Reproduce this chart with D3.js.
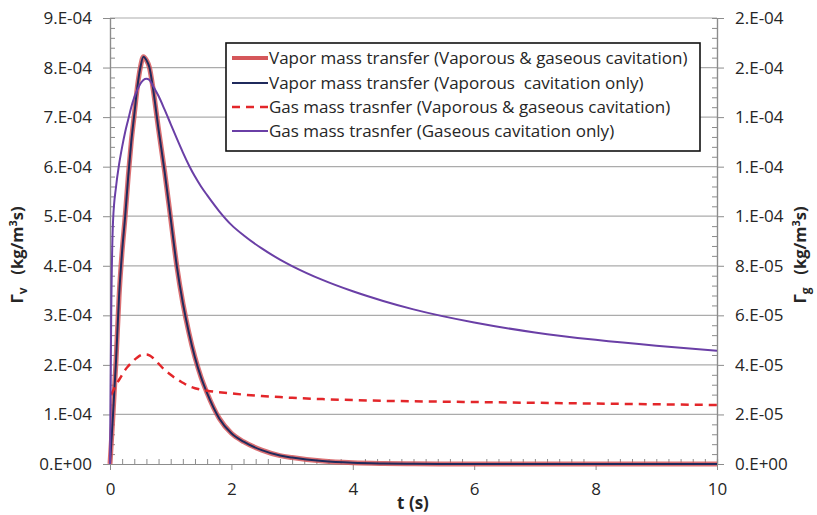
<!DOCTYPE html>
<html><head><meta charset="utf-8">
<script src="https://cdn.jsdelivr.net/npm/d3@7/dist/d3.min.js"></script>
<style>
html,body{margin:0;padding:0;background:#fff;}
text{font-family:"Open Sans",sans-serif;}
</style></head>
<body>
<svg id="chart" width="817" height="515"></svg>
<script>
// ---- data ----
const tValues = [0,0.02,0.05,0.1,0.15,0.2,0.25,0.3,0.35,0.4,0.45,0.5,0.55,0.6,0.65,0.7,0.8,0.9,1.0,1.1,1.2,1.3,1.4,1.5,1.6,1.8,2.0,2.2,2.5,2.8,3.0,3.5,4.0,4.5,5,6,7,8,9,10];
// Left axis (kg/m3s)
const vaporBoth = [0,0.4e-4,1.0e-4,2.1e-4,3.4e-4,4.3e-4,5.0e-4,5.8e-4,6.5e-4,7.05e-4,7.6e-4,8.0e-4,8.22e-4,8.15e-4,8.0e-4,7.65e-4,6.75e-4,5.9e-4,4.95e-4,4.0e-4,3.25e-4,2.65e-4,2.15e-4,1.75e-4,1.43e-4,0.92e-4,0.62e-4,0.45e-4,0.28e-4,0.17e-4,0.13e-4,0.06e-4,0.025e-4,0.01e-4,0.003e-4,0,0,0,0,0];
const vaporOnly = [0,0.4e-4,1.0e-4,2.1e-4,3.4e-4,4.3e-4,5.0e-4,5.8e-4,6.5e-4,7.05e-4,7.6e-4,8.0e-4,8.22e-4,8.15e-4,8.0e-4,7.65e-4,6.75e-4,5.9e-4,4.95e-4,4.0e-4,3.25e-4,2.65e-4,2.15e-4,1.75e-4,1.43e-4,0.92e-4,0.62e-4,0.45e-4,0.28e-4,0.17e-4,0.13e-4,0.06e-4,0.025e-4,0.01e-4,0.003e-4,0,0,0,0,0];
// Right axis (kg/m3s)
const gasBoth = [null,2.8e-5,2.95e-5,3.2e-5,3.4e-5,3.6e-5,3.8e-5,3.95e-5,4.08e-5,4.2e-5,4.3e-5,4.38e-5,4.42e-5,4.42e-5,4.38e-5,4.3e-5,4.05e-5,3.8e-5,3.6e-5,3.42e-5,3.28e-5,3.15e-5,3.06e-5,3.0e-5,2.96e-5,2.9e-5,2.85e-5,2.8e-5,2.74e-5,2.7e-5,2.67e-5,2.62e-5,2.58e-5,2.55e-5,2.53e-5,2.5e-5,2.47e-5,2.44e-5,2.41e-5,2.38e-5];
const gasOnly = [0,6.0e-5,9.8e-5,11.2e-5,12.1e-5,12.8e-5,13.4e-5,13.9e-5,14.4e-5,14.8e-5,15.1e-5,15.35e-5,15.5e-5,15.55e-5,15.5e-5,15.3e-5,14.85e-5,14.3e-5,13.72e-5,13.14e-5,12.58e-5,12.06e-5,11.6e-5,11.2e-5,10.85e-5,10.2e-5,9.65e-5,9.23e-5,8.7e-5,8.25e-5,7.99e-5,7.43e-5,6.97e-5,6.58e-5,6.24e-5,5.71e-5,5.31e-5,5.01e-5,4.77e-5,4.57e-5];

const xTicks = [0,2,4,6,8,10];
const leftTickValues = [0,1e-4,2e-4,3e-4,4e-4,5e-4,6e-4,7e-4,8e-4,9e-4];
const leftTickLabels = ["0.E+00","1.E-04","2.E-04","3.E-04","4.E-04","5.E-04","6.E-04","7.E-04","8.E-04","9.E-04"];
const rightTickValues = [0,2e-5,4e-5,6e-5,8e-5,10e-5,12e-5,14e-5,16e-5,18e-5];
const rightTickLabels = ["0.E+00","2.E-05","4.E-05","6.E-05","8.E-05","1.E-04","1.E-04","1.E-04","2.E-04","2.E-04"];
const seriesNames = ["Vapor mass transfer (Vaporous & gaseous cavitation)","Vapor mass transfer (Vaporous\u00a0 cavitation only)","Gas mass trasnfer (Vaporous & gaseous cavitation)","Gas mass trasnfer (Gaseous cavitation only)"];

// ---- layout ----
const svg = d3.select("#chart");
const L = 110, R = 717, T = 18, B = 464;
const x = d3.scaleLinear().domain([0,10]).range([L,R]);
const yL = d3.scaleLinear().domain([0,9e-4]).range([B,T]);
const yR = d3.scaleLinear().domain([0,1.8e-4]).range([B,T]);
const axisCol = "#8c8c8c", gridCol = "#ababab", txtCol = "#262626";
const fs = "17px";

svg.append("rect").attr("width",817).attr("height",515).attr("fill","#fff");

// gridlines
svg.append("g").selectAll("line").data(leftTickValues.slice(1)).join("line")
  .attr("x1",L).attr("x2",R).attr("y1",d=>yL(d)).attr("y2",d=>yL(d))
  .attr("stroke",gridCol).attr("stroke-width",1.2);

function styleAxis(g){
  g.select(".domain").attr("stroke",axisCol).attr("stroke-width",1.2);
  g.selectAll(".tick line").attr("stroke",axisCol).attr("stroke-width",1);
  g.selectAll("text").attr("fill",txtCol).style("font-size",fs).style("font-family","'Open Sans',sans-serif");
}

// minor ticks
const minorLeft = d3.range(0,9e-4+1e-12,2e-5).filter((d,i)=>i%5!==0);
const minorRight = d3.range(0,1.8e-4+1e-12,4e-6).filter((d,i)=>i%5!==0);
const minorX = d3.range(0,10.0001,0.2).filter((d,i)=>i%10!==0);
svg.append("g").attr("transform",`translate(${L},0)`)
  .call(d3.axisRight(yL).tickValues(minorLeft).tickSize(5).tickFormat("")).call(styleAxis);
svg.append("g").attr("transform",`translate(${R},0)`)
  .call(d3.axisLeft(yR).tickValues(minorRight).tickSize(5).tickFormat("")).call(styleAxis);
svg.append("g").attr("transform",`translate(0,${B})`)
  .call(d3.axisTop(x).tickValues(minorX).tickSize(5).tickFormat("")).call(styleAxis);

// major axes
svg.append("g").attr("transform",`translate(${L},0)`)
  .call(d3.axisLeft(yL).tickValues(leftTickValues).tickSizeInner(7).tickSizeOuter(0).tickPadding(11)
    .tickFormat((d,i)=>leftTickLabels[i])).call(styleAxis);
svg.append("g").attr("transform",`translate(${R},0)`)
  .call(d3.axisRight(yR).tickValues(rightTickValues).tickSizeInner(7).tickSizeOuter(0).tickPadding(11)
    .tickFormat((d,i)=>rightTickLabels[i])).call(styleAxis);
svg.append("g").attr("transform",`translate(0,${B})`)
  .call(d3.axisBottom(x).tickValues(xTicks).tickSizeInner(6).tickSizeOuter(0).tickPadding(13)
    .tickFormat(d3.format("d"))).call(styleAxis);

// series
const pts = arr => tValues.map((t,i)=>[t,arr[i]]);
const lineL = d3.line().defined(d=>d[1]!=null).x(d=>x(d[0])).y(d=>yL(d[1])).curve(d3.curveMonotoneX);
const lineR = d3.line().defined(d=>d[1]!=null).x(d=>x(d[0])).y(d=>yR(d[1])).curve(d3.curveMonotoneX);

const styles = [
  {stroke:"#d5575a", width:5, dash:null},
  {stroke:"#1f2a5c", width:2, dash:null},
  {stroke:"#e3262a", width:2.5, dash:"8,6"},
  {stroke:"#6a3fa6", width:2, dash:null}
];
svg.append("path").datum(pts(vaporBoth)).attr("d",lineL).attr("fill","none")
  .attr("stroke",styles[0].stroke).attr("stroke-width",styles[0].width).attr("stroke-opacity",0.85);
svg.append("path").datum(pts(vaporOnly)).attr("d",lineL).attr("fill","none")
  .attr("stroke",styles[1].stroke).attr("stroke-width",styles[1].width);
svg.append("path").datum(pts(gasBoth)).attr("d",lineR).attr("fill","none")
  .attr("stroke",styles[2].stroke).attr("stroke-width",styles[2].width).attr("stroke-dasharray",styles[2].dash);
svg.append("path").datum(pts(gasOnly)).attr("d",lineR).attr("fill","none")
  .attr("stroke",styles[3].stroke).attr("stroke-width",styles[3].width);

// legend
const lg = svg.append("g");
lg.append("rect").attr("x",226).attr("y",43).attr("width",474).attr("height",108)
  .attr("fill","#fff").attr("stroke","#111").attr("stroke-width",1.6);
const rowsY = [58,83,107,131];
seriesNames.forEach((name,i)=>{
  const s = styles[i];
  lg.append("line").attr("x1",232).attr("x2",268).attr("y1",rowsY[i]).attr("y2",rowsY[i])
    .attr("stroke",s.stroke).attr("stroke-width",i===0?4:s.width).attr("stroke-dasharray",s.dash);
  lg.append("text").attr("x",269).attr("y",rowsY[i]).attr("dy","0.35em")
    .attr("fill",txtCol).style("font-size",fs).text(name);
});

// axis titles
function yTitle(xp, sub){
  const t = svg.append("text").attr("transform",`translate(${xp},255) rotate(-90)`)
    .attr("text-anchor","middle").attr("fill",txtCol)
    .style("font-size","16.5px").style("font-weight","bold");
  t.append("tspan").text("Γ");
  t.append("tspan").attr("dy",4).style("font-size","12px").text(sub);
  t.append("tspan").attr("dy",-4).text("\u00a0\u00a0\u00a0(kg/m");
  t.append("tspan").attr("dy",-6).style("font-size","11px").text("3");
  t.append("tspan").attr("dy",6).text("s)");
}
yTitle(23,"v");
yTitle(806,"g");

svg.append("text").attr("x",413).attr("y",509).attr("text-anchor","middle")
  .attr("fill",txtCol).style("font-size",fs).style("font-weight","bold").text("t (s)");
</script>
</body></html>
